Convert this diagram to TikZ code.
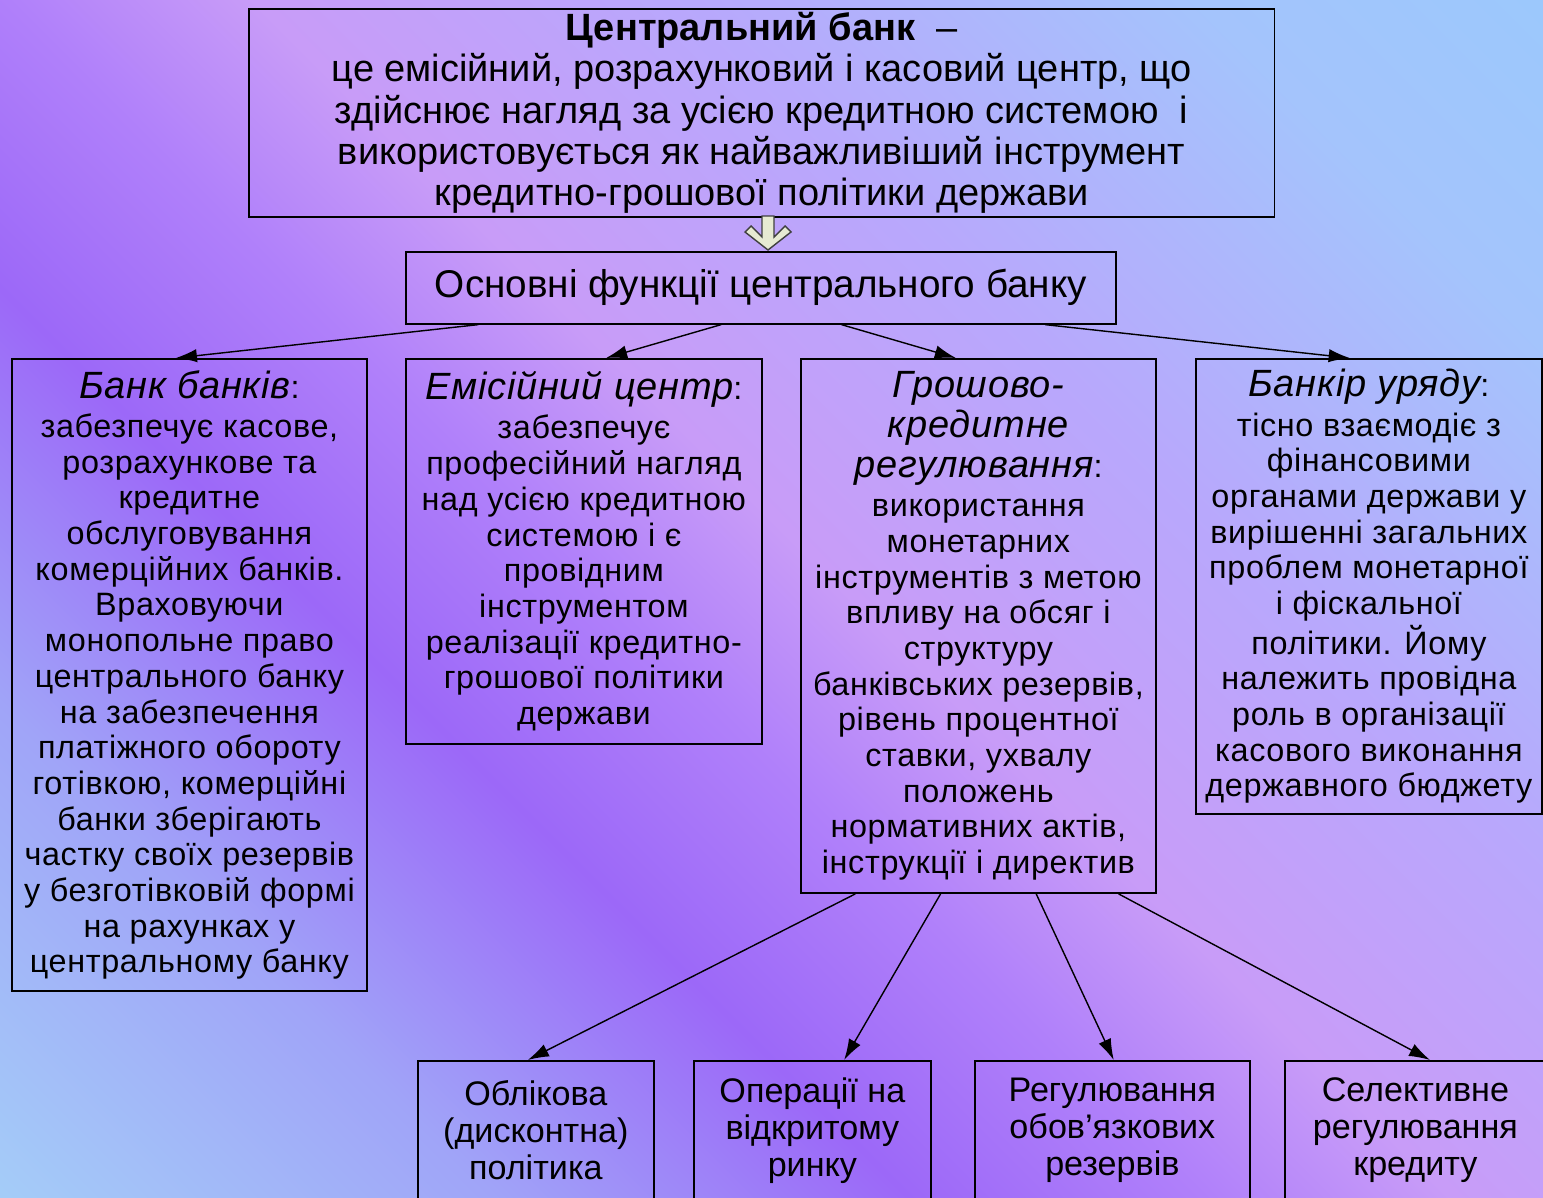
\documentclass[tikz,border=0pt]{standalone}
\usepackage{fontspec}
\setmainfont{Liberation Sans}
\newfontfamily\boxfont[LetterSpace=2]{Liberation Sans}
\usetikzlibrary{arrows.meta, calc}

\definecolor{bgblue}{HTML}{A4CCF8}
\definecolor{bgmid}{HTML}{A0A4F8}
\definecolor{bgdeep}{HTML}{9C68F8}
\definecolor{bgviolet}{HTML}{B080FA}
\definecolor{bglilac}{HTML}{C89CF8}
\definecolor{bgpale}{HTML}{B8A8FC}
\definecolor{bgsky}{HTML}{A4C4FC}
\definecolor{bgsky2}{HTML}{9CC8FC}
\definecolor{arrowfill}{HTML}{E6EAD2}

\pgfdeclarehorizontalshading{backdrop}{100bp}{color(0bp)=(bgblue); color(14.6bp)=(bgblue);
  color(27.3bp)=(bgmid); color(38bp)=(bgdeep); color(45.7bp)=(bgviolet); color(52.1bp)=(bglilac);
  color(63.5bp)=(bgpale); color(76.6bp)=(bgsky); color(85.4bp)=(bgsky2); color(100bp)=(bgsky2)}

\newcommand{\hd}[1]{{\fontsize{10.8}{11.4}\selectfont\itshape #1}}

\tikzset{
  box/.style={draw=black, line width=0.45pt, inner sep=0pt, align=center, anchor=north west},
  body/.style={font=\boxfont\fontsize{9.2}{10.15}\selectfont},
  low/.style={font=\fontsize{9.7}{10.5}\selectfont},
  link/.style={-{Latex[length=6pt,width=3.8pt]}, line width=0.4pt}
}

\begin{document}
\begin{tikzpicture}[x=0.01cm, y=-0.01cm]

\useasboundingbox (0,0) rectangle (1543,1197);
\clip (0,0) rectangle (1543,1197);
\shade[shading=backdrop, shading angle=45] (0,0) rectangle (1543,1197);

% central bank
\node[box, minimum width=10.25cm, minimum height=2.08cm, font=\fontsize{10.8}{11.7}\selectfont] (cb) at (248,8)
{\textbf{Центральний банк} \ –\\
це емісійний, розрахунковий і касовий центр, що\\
здійснює нагляд за усією кредитною системою \ і\\
використовується як найважливіший інструмент\\
кредитно-грошової політики держави};

\node[box, minimum width=7.1cm, minimum height=0.72cm, font=\fontsize{11}{12}\selectfont] (func) at (405,251)
{Основні функції центрального банку};

% functions
\node[box, body, minimum width=3.55cm, minimum height=6.32cm] (bb) at (11,358)
{\hd{Банк банків}:\\[1pt]
забезпечує касове,\\
розрахункове та\\
кредитне\\
обслуговування\\
комерційних банків.\\
Враховуючи\\
монопольне право\\
центрального банку\\
на забезпечення\\
платіжного обороту\\
готівкою, комерційні\\
банки зберігають\\
частку своїх резервів\\
у безготівковій формі\\
на рахунках у\\
центральному банку};

\node[box, body, minimum width=3.56cm, minimum height=3.85cm] (emc) at (405,358)
{\hd{Емісійний центр}:\\[1pt]
забезпечує\\
професійний нагляд\\
над усією кредитною\\
системою і є\\
провідним\\
інструментом\\
реалізації кредитно-\\
грошової політики\\
держави};

\node[box, body, minimum width=3.55cm, minimum height=5.34cm] (reg) at (800,358)
{\hd{Грошово-}\\[1.2pt]
\hd{кредитне}\\[1.2pt]
\hd{регулювання}:\\[1pt]
використання\\
монетарних\\
інструментів з метою\\
впливу на обсяг і\\
структуру\\
банківських резервів,\\
рівень процентної\\
ставки, ухвалу\\
положень\\
нормативних актів,\\
інструкції і директив};

\node[box, body, minimum width=3.46cm, minimum height=4.55cm] (gov) at (1195,358)
{\hd{Банкір уряду}:\\[1pt]
тісно взаємодіє з\\
фінансовими\\
органами держави у\\
вирішенні загальних\\
проблем монетарної\\
і фіскальної\\
політики. Йому\\
належить провідна\\
роль в організації\\
касового виконання\\
державного бюджету};

% instruments
\node[box, low, minimum width=2.36cm, minimum height=1.39cm] (disc) at (417,1060)
{Облікова\\(дисконтна)\\політика};
\node[box, low, minimum width=2.37cm, minimum height=1.39cm] (open) at (693,1060)
{Операції на\\відкритому\\ринку};
\node[box, low, minimum width=2.75cm, minimum height=1.39cm] (res) at (974,1060)
{Регулювання\\обов’язкових\\резервів};
\node[box, low, minimum width=2.61cm, minimum height=1.39cm] (sel) at (1284,1060)
{Селективне\\регулювання\\кредиту};

% block arrow
\draw[fill=arrowfill, draw=black!75, line width=0.4pt]
  (762,216) -- (762,237) -- (751,226) -- (745,232) -- (768,250) -- (791,232)
  -- (785,226) -- (774,237) -- (774,216) -- cycle;

\draw[link] ($(func.south west)!0.103!(func.south east)$) -- ($(bb.north west)!0.462!(bb.north east)$);
\draw[link] ($(func.south west)!0.444!(func.south east)$) -- ($(emc.north west)!0.562!(emc.north east)$);
\draw[link] ($(func.south west)!0.613!(func.south east)$) -- ($(reg.north west)!0.437!(reg.north east)$);
\draw[link] ($(func.south west)!0.899!(func.south east)$) -- ($(gov.north west)!0.445!(gov.north east)$);

\draw[link] ($(reg.south west)!0.155!(reg.south east)$) -- ($(disc.north west)!0.466!(disc.north east)$);
\draw[link] ($(reg.south west)!0.394!(reg.south east)$) -- ($(open.north west)!0.633!(open.north east)$);
\draw[link] ($(reg.south west)!0.662!(reg.south east)$) -- ($(res.north west)!0.505!(res.north east)$);
\draw[link] ($(reg.south west)!0.893!(reg.south east)$) -- ($(sel.north west)!0.556!(sel.north east)$);

\end{tikzpicture}
\end{document}
